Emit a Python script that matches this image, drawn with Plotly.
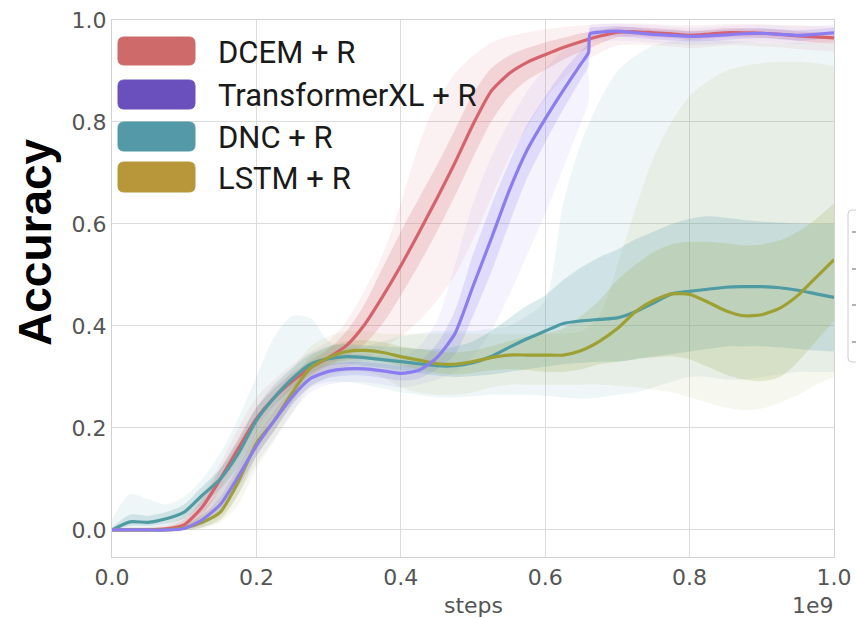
import plotly.graph_objects as go

# ---------------- data ----------------
STEPS = [0, .025, .05, .075, .1, .125, .15, .175, .2, .225, .25, .275, .3, .325, .35, .375,
         .4, .425, .45, .475, .5, .525, .55, .575, .6, .625, .65, .675, .7, .725, .75, .775,
         .8, .825, .85, .875, .9, .925, .95, .975, 1.0]
TXL_STEPS = STEPS[:27] + [0.66, 0.662] + STEPS[27:]

SERIES_NAMES = ["DCEM + R", "TransformerXL + R", "DNC + R", "LSTM + R"]

DCEM_MEAN = [0.0, 0.0, 0.0, 0.002, 0.01, 0.045, 0.10, 0.16, 0.218, 0.26, 0.292, 0.318, 0.338, 0.362, 0.403,
             0.458, 0.518, 0.583, 0.65, 0.72, 0.795, 0.86, 0.895, 0.917, 0.932, 0.946, 0.958, 0.968, 0.976, 0.977,
             0.975, 0.973, 0.97, 0.972, 0.975, 0.975, 0.974, 0.972, 0.969, 0.967, 0.965]
DCEM_IN_LO = [0, 0, 0, 0, 0.004, 0.03, 0.08, 0.14, 0.2, 0.245, 0.278, 0.305, 0.325, 0.34, 0.365, 0.405, 0.46,
              0.52, 0.585, 0.655, 0.73, 0.80, 0.85, 0.882, 0.902, 0.922, 0.938, 0.953, 0.966, 0.968, 0.966,
              0.964, 0.961, 0.963, 0.966, 0.966, 0.965, 0.963, 0.959, 0.956, 0.954]
DCEM_IN_HI = [0.003, 0.003, 0.004, 0.006, 0.02, 0.06, 0.12, 0.18, 0.24, 0.278, 0.308, 0.332, 0.355, 0.39,
              0.443, 0.515, 0.585, 0.65, 0.715, 0.785, 0.855, 0.905, 0.93, 0.945, 0.956, 0.965, 0.974, 0.981,
              0.986, 0.986, 0.984, 0.982, 0.979, 0.981, 0.984, 0.984, 0.983, 0.981, 0.978, 0.976, 0.974]
DCEM_OUT_LO = [0, 0, 0, 0, 0, 0.02, 0.06, 0.12, 0.18, 0.225, 0.265, 0.295, 0.31, 0.32, 0.335, 0.355, 0.38,
               0.41, 0.45, 0.50, 0.57, 0.65, 0.73, 0.79, 0.845, 0.885, 0.915, 0.935, 0.95, 0.952, 0.95, 0.948,
               0.945, 0.947, 0.95, 0.95, 0.948, 0.946, 0.943, 0.94, 0.938]
DCEM_OUT_HI = [0.005, 0.005, 0.006, 0.01, 0.03, 0.07, 0.13, 0.2, 0.26, 0.295, 0.325, 0.35, 0.37, 0.41, 0.47,
               0.54, 0.64, 0.755, 0.84, 0.895, 0.93, 0.955, 0.968, 0.976, 0.982, 0.986, 0.989, 0.991, 0.993,
               0.993, 0.992, 0.99, 0.99, 0.99, 0.992, 0.992, 0.992, 0.99, 0.99, 0.988, 0.987]

TXL_MEAN = [0, 0, 0, 0, 0.003, 0.02, 0.05, 0.105, 0.165, 0.215, 0.262, 0.297, 0.311, 0.316, 0.316, 0.312,
            0.307, 0.313, 0.338, 0.385, 0.478, 0.57, 0.665, 0.745, 0.806, 0.862, 0.915, 0.936, 0.973, 0.976,
            0.978, 0.975, 0.972, 0.97, 0.968, 0.969, 0.971, 0.973, 0.974, 0.972, 0.97, 0.972, 0.975]
TXL_IN_LO = [0, 0, 0, 0, 0, 0.01, 0.035, 0.085, 0.145, 0.195, 0.245, 0.283, 0.298, 0.303, 0.303, 0.298,
             0.293, 0.297, 0.315, 0.345, 0.42, 0.505, 0.60, 0.69, 0.76, 0.825, 0.885, 0.91, 0.962, 0.966,
             0.968, 0.965, 0.962, 0.96, 0.958, 0.959, 0.961, 0.963, 0.964, 0.962, 0.96, 0.962, 0.965]
TXL_IN_HI = [0.003, 0.003, 0.003, 0.003, 0.008, 0.03, 0.065, 0.125, 0.185, 0.235, 0.28, 0.311, 0.324, 0.329,
             0.329, 0.326, 0.322, 0.33, 0.365, 0.43, 0.54, 0.635, 0.72, 0.795, 0.85, 0.90, 0.94, 0.955, 0.984,
             0.986, 0.988, 0.985, 0.982, 0.98, 0.978, 0.979, 0.981, 0.983, 0.984, 0.982, 0.98, 0.982, 0.985]
TXL_OUT_LO = [0, 0, 0, 0, 0, 0.005, 0.025, 0.07, 0.13, 0.18, 0.23, 0.27, 0.285, 0.29, 0.29, 0.285, 0.28,
              0.285, 0.295, 0.31, 0.34, 0.39, 0.46, 0.54, 0.62, 0.71, 0.80, 0.84, 0.955, 0.958, 0.96, 0.958,
              0.955, 0.953, 0.951, 0.952, 0.954, 0.956, 0.957, 0.955, 0.953, 0.955, 0.958]
TXL_OUT_HI = [0.004, 0.004, 0.004, 0.005, 0.012, 0.04, 0.08, 0.14, 0.2, 0.25, 0.295, 0.325, 0.34, 0.345,
              0.345, 0.342, 0.34, 0.36, 0.41, 0.52, 0.64, 0.73, 0.80, 0.86, 0.905, 0.94, 0.96, 0.965, 0.99,
              0.992, 0.993, 0.991, 0.989, 0.987, 0.985, 0.986, 0.988, 0.99, 0.99, 0.989, 0.987, 0.989, 0.991]

DNC_MEAN = [0.0, 0.016, 0.015, 0.022, 0.035, 0.068, 0.10, 0.15, 0.215, 0.26, 0.297, 0.325, 0.336, 0.34,
            0.338, 0.334, 0.33, 0.326, 0.322, 0.322, 0.328, 0.34, 0.358, 0.375, 0.39, 0.405, 0.41, 0.413,
            0.416, 0.428, 0.445, 0.463, 0.468, 0.472, 0.476, 0.477, 0.477, 0.475, 0.47, 0.463, 0.456]
DNC_IN_LO = [0, 0.008, 0.008, 0.012, 0.022, 0.05, 0.08, 0.125, 0.19, 0.24, 0.28, 0.31, 0.322, 0.326, 0.322,
             0.318, 0.313, 0.308, 0.303, 0.30, 0.302, 0.305, 0.31, 0.315, 0.32, 0.325, 0.328, 0.33, 0.33,
             0.335, 0.34, 0.345, 0.35, 0.355, 0.36, 0.36, 0.36, 0.358, 0.355, 0.352, 0.35]
DNC_IN_HI = [0.005, 0.03, 0.028, 0.035, 0.05, 0.085, 0.12, 0.175, 0.24, 0.285, 0.318, 0.345, 0.36, 0.365,
             0.362, 0.36, 0.358, 0.355, 0.355, 0.36, 0.37, 0.39, 0.415, 0.44, 0.46, 0.49, 0.515, 0.535, 0.55,
             0.57, 0.585, 0.60, 0.61, 0.615, 0.612, 0.608, 0.605, 0.603, 0.601, 0.60, 0.60]
DNC_OUT_LO = [0, 0, 0, 0, 0.01, 0.035, 0.06, 0.1, 0.16, 0.21, 0.25, 0.28, 0.29, 0.29, 0.285, 0.278, 0.27,
              0.265, 0.26, 0.26, 0.262, 0.265, 0.265, 0.265, 0.263, 0.26, 0.258, 0.26, 0.265, 0.27, 0.28,
              0.29, 0.30, 0.30, 0.295, 0.295, 0.30, 0.305, 0.31, 0.31, 0.31]
DNC_OUT_HI = [0.02, 0.07, 0.06, 0.05, 0.065, 0.10, 0.15, 0.22, 0.30, 0.38, 0.42, 0.415, 0.37, 0.36, 0.36,
              0.37, 0.38, 0.385, 0.39, 0.39, 0.39, 0.395, 0.40, 0.42, 0.45, 0.64, 0.76, 0.84, 0.90, 0.93,
              0.95, 0.958, 0.962, 0.962, 0.96, 0.958, 0.956, 0.955, 0.955, 0.955, 0.955]

LSTM_MEAN = [0, 0, 0, 0, 0.004, 0.015, 0.035, 0.095, 0.17, 0.215, 0.27, 0.318, 0.338, 0.35, 0.352, 0.348,
             0.34, 0.333, 0.326, 0.325, 0.33, 0.338, 0.343, 0.343, 0.343, 0.343, 0.352, 0.37, 0.395, 0.428,
             0.45, 0.463, 0.462, 0.447, 0.43, 0.42, 0.422, 0.435, 0.46, 0.495, 0.53]
LSTM_IN_LO = [0, 0, 0, 0, 0, 0.005, 0.02, 0.07, 0.145, 0.195, 0.25, 0.3, 0.322, 0.333, 0.335, 0.33, 0.322,
              0.315, 0.308, 0.305, 0.308, 0.313, 0.315, 0.313, 0.31, 0.31, 0.315, 0.325, 0.33, 0.335, 0.338,
              0.34, 0.335, 0.32, 0.305, 0.295, 0.292, 0.30, 0.33, 0.37, 0.41]
LSTM_IN_HI = [0.003, 0.003, 0.003, 0.004, 0.01, 0.03, 0.06, 0.12, 0.195, 0.24, 0.29, 0.34, 0.358, 0.37,
              0.372, 0.368, 0.36, 0.355, 0.35, 0.348, 0.352, 0.36, 0.37, 0.38, 0.385, 0.395, 0.42, 0.45, 0.49,
              0.52, 0.545, 0.56, 0.565, 0.565, 0.562, 0.558, 0.56, 0.568, 0.585, 0.61, 0.64]
LSTM_OUT_LO = [0, 0, 0, 0, 0, 0.003, 0.015, 0.05, 0.12, 0.175, 0.23, 0.28, 0.3, 0.31, 0.31, 0.3, 0.28, 0.27,
               0.265, 0.265, 0.27, 0.28, 0.285, 0.285, 0.285, 0.285, 0.285, 0.285, 0.283, 0.28, 0.275, 0.27,
               0.26, 0.25, 0.24, 0.235, 0.238, 0.25, 0.265, 0.285, 0.30]
LSTM_OUT_HI = [0.005, 0.005, 0.005, 0.006, 0.015, 0.04, 0.08, 0.14, 0.215, 0.265, 0.315, 0.36, 0.38, 0.39,
               0.39, 0.385, 0.385, 0.385, 0.385, 0.385, 0.385, 0.385, 0.385, 0.385, 0.385, 0.385, 0.39, 0.42,
               0.52, 0.63, 0.73, 0.80, 0.85, 0.88, 0.90, 0.91, 0.915, 0.918, 0.918, 0.915, 0.91]

TICK_VALS = [0.0, 0.2, 0.4, 0.6, 0.8, 1.0]
TICK_TEXT = ["0.0", "0.2", "0.4", "0.6", "0.8", "1.0"]

# ---------------- style ----------------
LINE_COLORS = ["#d6626b", "#8b7cf2", "#4f9ba3", "#9ea034"]
FILL_RGB = ["214,98,107", "139,124,242", "79,155,163", "150,168,70"]
LEGEND_COLORS = ["#cf6a6a", "#6a50bd", "#5399a8", "#b8963a"]

series = [
    (STEPS, DCEM_MEAN, DCEM_IN_LO, DCEM_IN_HI, DCEM_OUT_LO, DCEM_OUT_HI),
    (TXL_STEPS, TXL_MEAN, TXL_IN_LO, TXL_IN_HI, TXL_OUT_LO, TXL_OUT_HI),
    (STEPS, DNC_MEAN, DNC_IN_LO, DNC_IN_HI, DNC_OUT_LO, DNC_OUT_HI),
    (STEPS, LSTM_MEAN, LSTM_IN_LO, LSTM_IN_HI, LSTM_OUT_LO, LSTM_OUT_HI),
]

fig = go.Figure()


def add_band(x, lo, hi, rgb, alpha):
    fig.add_trace(go.Scatter(x=x, y=lo, mode="lines", line=dict(width=0, shape="spline", smoothing=0.8),
                             showlegend=False, hoverinfo="skip"))
    fig.add_trace(go.Scatter(x=x, y=hi, mode="lines", line=dict(width=0, shape="spline", smoothing=0.8),
                             fill="tonexty", fillcolor=f"rgba({rgb},{alpha})",
                             showlegend=False, hoverinfo="skip"))


for i, s in enumerate(series):
    add_band(s[0], s[4], s[5], FILL_RGB[i], 0.09)
for i, s in enumerate(series):
    add_band(s[0], s[2], s[3], FILL_RGB[i], 0.2)

for i in [0, 2, 3, 1]:
    s = series[i]
    fig.add_trace(go.Scatter(x=s[0], y=s[1], mode="lines", name=SERIES_NAMES[i],
                             line=dict(color=LINE_COLORS[i], width=3.2, shape="spline", smoothing=0.6),
                             showlegend=False))

# ---------------- layout ----------------
L, R, T, B = 112, 22, 20, 62
W, H = 856, 619
PW, PH = W - L - R, H - T - B


def px(xp):
    return (xp - L) / PW


def py(yp):
    return (H - B - yp) / PH


def rounded(x0, y0, x1, y1, r=6):
    rx, ry = r / PW, r / PH
    a, b, c, d = px(x0), py(y1), px(x1), py(y0)
    return (f"M {a+rx},{b} L {c-rx},{b} Q {c},{b} {c},{b+ry} L {c},{d-ry} Q {c},{d} {c-rx},{d} "
            f"L {a+rx},{d} Q {a},{d} {a},{d-ry} L {a},{b+ry} Q {a},{b} {a+rx},{b} Z")


shapes = []
annotations = []
legend_rows = [(37, 65), (80, 109), (122, 151), (162, 192)]
for i, (t, b) in enumerate(legend_rows):
    shapes.append(dict(type="path", xref="paper", yref="paper", path=rounded(118, t, 195, b),
                       fillcolor=LEGEND_COLORS[i], line=dict(color=LEGEND_COLORS[i], width=1), layer="above"))
    annotations.append(dict(x=px(216), y=py((t + b) / 2 + 1), xref="paper", yref="paper", text=SERIES_NAMES[i],
                            showarrow=False, xanchor="left", yanchor="middle",
                            font=dict(family="Roboto", size=31, color="#1a1a1a")))

# clipped second legend box on the right edge
shapes.append(dict(type="path", xref="paper", yref="paper", path=rounded(848, 210, 880, 362, 4),
                   fillcolor="white", line=dict(color="#cfcfcf", width=1)))
for yy in [232, 269, 305, 342]:
    shapes.append(dict(type="line", xref="paper", yref="paper", x0=px(852), x1=px(856), y0=py(yy), y1=py(yy),
                       line=dict(color="#9a9a9a", width=1.5)))

annotations.append(dict(x=px(35), y=py(242), xref="paper", yref="paper", text="Accuracy", textangle=-90,
                        showarrow=False, xanchor="center", yanchor="middle",
                        font=dict(family="Liberation Sans", size=46, color="black", weight="bold")))
annotations.append(dict(x=0.5, y=py(605), xref="paper", yref="paper", text="steps", showarrow=False,
                        xanchor="center", yanchor="middle",
                        font=dict(family="DejaVu Sans", size=22, color="#555555")))
annotations.append(dict(x=px(836), y=py(605), xref="paper", yref="paper", text="1e9", showarrow=False,
                        xanchor="right", yanchor="middle",
                        font=dict(family="DejaVu Sans", size=22, color="#555555")))

axis_common = dict(showgrid=True, gridcolor="#dcdcdc", gridwidth=1.3, zeroline=False, automargin=False,
                   showline=True, mirror=True, linecolor="#d2d2d2", linewidth=1.3, ticks="",
                   tickfont=dict(family="DejaVu Sans", size=22, color="#555555"),
                   tickvals=TICK_VALS, ticktext=TICK_TEXT)

fig.update_layout(
    width=W, height=H,
    margin=dict(l=L, r=R, t=T, b=B, autoexpand=False),
    paper_bgcolor="white", plot_bgcolor="white",
    showlegend=False,
    xaxis=dict(range=[0, 1], **axis_common),
    yaxis=dict(range=[-0.053, 1.0], **axis_common),
    shapes=shapes,
    annotations=annotations,
)

fig.write_html("out.html", config={"displayModeBar": False},
               post_script="document.body.style.margin='0';document.body.style.overflow='hidden';")
